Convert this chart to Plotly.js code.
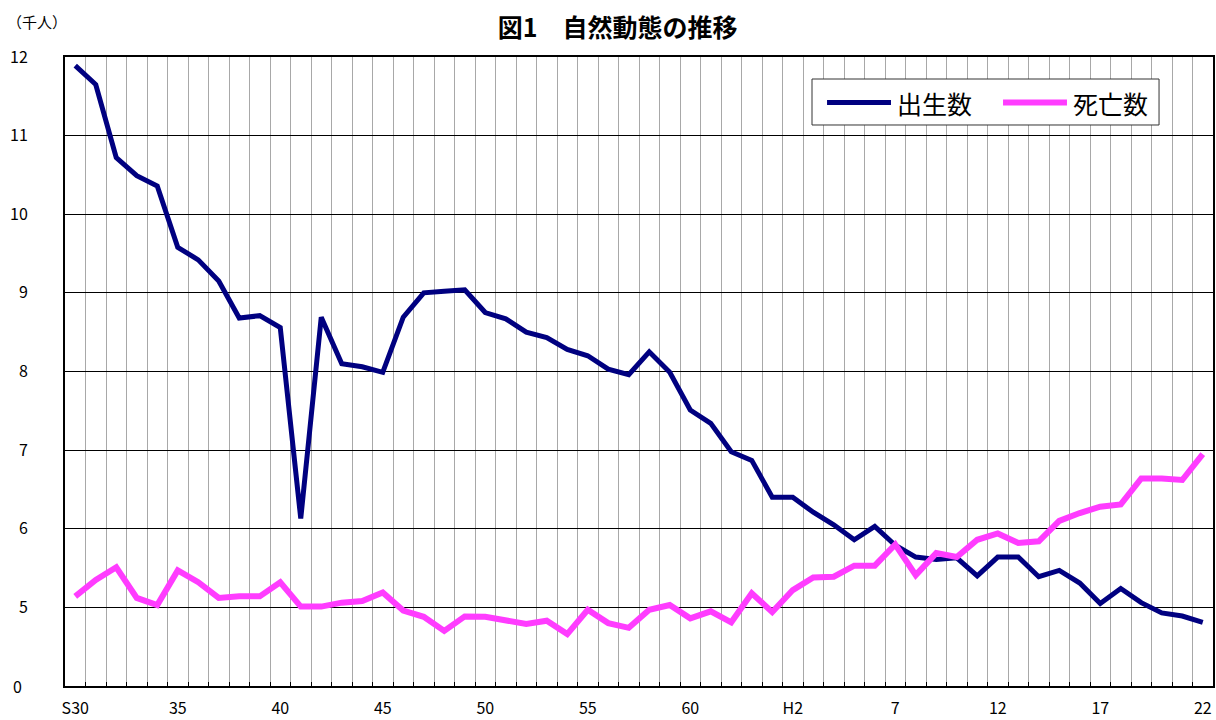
<!DOCTYPE html>
<html>
<head>
<meta charset="utf-8">
<script src="https://cdn.plot.ly/plotly-3.0.1.min.js"></script>
<style>
  html, body { margin: 0; padding: 0; background: #ffffff; }
  #chart { width: 1216px; height: 720px; }
</style>
</head>
<body>
<div id="chart"></div>
<script>
// Years (S30 = 1955 ... H22 = 2010)
const years = [1955,1956,1957,1958,1959,1960,1961,1962,1963,1964,
               1965,1966,1967,1968,1969,1970,1971,1972,1973,1974,
               1975,1976,1977,1978,1979,1980,1981,1982,1983,1984,
               1985,1986,1987,1988,1989,1990,1991,1992,1993,1994,
               1995,1996,1997,1998,1999,2000,2001,2002,2003,2004,
               2005,2006,2007,2008,2009,2010];

// 出生数 (千人)
const births = [11.89,11.65,10.72,10.49,10.36,9.58,9.42,9.15,8.68,8.71,
                8.56,6.13,8.69,8.10,8.06,7.99,8.69,9.00,9.02,9.04,
                8.75,8.67,8.50,8.43,8.28,8.20,8.03,7.96,8.25,7.99,
                7.51,7.34,6.98,6.87,6.40,6.40,6.21,6.05,5.86,6.03,
                5.79,5.64,5.61,5.63,5.40,5.64,5.64,5.39,5.47,5.31,
                5.05,5.24,5.06,4.93,4.89,4.81];

// 死亡数 (千人)
const deaths = [5.14,5.35,5.51,5.12,5.03,5.47,5.32,5.12,5.14,5.14,
                5.32,5.01,5.01,5.06,5.08,5.19,4.96,4.88,4.70,4.885,
                4.88,4.84,4.79,4.83,4.66,4.97,4.80,4.74,4.97,5.03,
                4.86,4.95,4.81,5.18,4.94,5.22,5.38,5.39,5.53,5.53,
                5.80,5.41,5.69,5.64,5.86,5.94,5.82,5.84,6.10,6.20,
                6.28,6.31,6.64,6.64,6.62,6.95];

// x tick labels
const tickYears = [1955,1960,1965,1970,1975,1980,1985,1990,1995,2000,2005,2010];
const tickText  = ["S30","35","40","45","50","55","60","H2","7","12","17","22"];

// y tick labels (axis baseline labelled "0")
const yTickVals = [5,6,7,8,9,10,11,12];
const yTickText = ["5","6","7","8","9","10","11","12"];
const yBase = 4;

const seriesNames = ["出生数","死亡数"];
const colors = ["#000080","#FF3CFF"];

// category boundaries for the vertical grid
const bounds = [];
for (let i = 0; i < years.length - 1; i++) bounds.push((years[i] + years[i+1]) / 2);

const FONT = '"Noto Sans CJK JP", "Noto Sans", sans-serif';

const traces = [
  { x: years, y: births, type: 'scatter', mode: 'lines', name: seriesNames[0],
    line: { color: colors[0], width: 5 }, showlegend: false },
  { x: years, y: deaths, type: 'scatter', mode: 'lines', name: seriesNames[1],
    line: { color: colors[1], width: 6 }, showlegend: false }
];

// custom legend geometry (paper coords)
const L = { x0: 0.6507, x1: 0.9530, y0: 0.8919, y1: 0.9650, ym: 0.9276 };

const layout = {
  width: 1216, height: 720,
  margin: { l: 65, r: 3, t: 57, b: 34 },
  paper_bgcolor: '#ffffff', plot_bgcolor: '#ffffff',
  font: { family: FONT, size: 16, color: '#000000' },
  title: { text: '図1　自然動態の推移', font: { family: FONT, size: 25, color: '#000', weight: 'bold' },
           x: 0.508, xref: 'container', xanchor: 'center', y: 1 - 28/720, yref: 'container', yanchor: 'middle' },
  showlegend: false,
  xaxis: {
    range: [years[0] - 0.5, years[years.length-1] + 0.5],
    tickmode: 'array', tickvals: tickYears, ticktext: tickText,
    ticks: '', showgrid: false, zeroline: false,
    showline: true, linecolor: '#000', linewidth: 2, mirror: true,
    tickfont: { family: FONT, size: 16, color: '#000' },
    ticklabelstandoff: 7,
    minor: { tickmode: 'array', tickvals: bounds, showgrid: true, gridcolor: '#a8a8a8', gridwidth: 1,
             ticks: 'inside', ticklen: 4, tickcolor: '#000', tickwidth: 1 }
  },
  yaxis: {
    range: [yBase, 12],
    tickmode: 'array', tickvals: yTickVals, ticktext: yTickText,
    ticks: '', showgrid: true, gridcolor: '#000', gridwidth: 1, zeroline: false,
    showline: true, linecolor: '#000', linewidth: 2, mirror: true,
    tickfont: { family: FONT, size: 16, color: '#000' },
    ticklabelstandoff: 32
  },
  shapes: [
    { type: 'rect', xref: 'paper', yref: 'paper', x0: L.x0, x1: L.x1, y0: L.y0, y1: L.y1,
      line: { color: '#333', width: 1 }, fillcolor: '#ffffff', layer: 'above' },
    { type: 'line', xref: 'paper', yref: 'paper', x0: 0.6638, x1: 0.7195, y0: L.ym, y1: L.ym,
      line: { color: colors[0], width: 5 }, layer: 'above' },
    { type: 'line', xref: 'paper', yref: 'paper', x0: 0.8171, x1: 0.8728, y0: L.ym, y1: L.ym,
      line: { color: colors[1], width: 6 }, layer: 'above' }
  ],
  annotations: [
    { text: seriesNames[0], xref: 'paper', yref: 'paper', x: 0.7230, y: L.ym, xanchor: 'left', yanchor: 'middle',
      showarrow: false, font: { family: FONT, size: 25, color: '#000' } },
    { text: seriesNames[1], xref: 'paper', yref: 'paper', x: 0.8763, y: L.ym, xanchor: 'left', yanchor: 'middle',
      showarrow: false, font: { family: FONT, size: 25, color: '#000' } },
    { text: '（千人）', xref: 'paper', yref: 'paper', x: (5 - 65) / 1148, y: (686 - 22) / 629,
      xanchor: 'left', yanchor: 'middle', showarrow: false, font: { family: FONT, size: 15, color: '#000' } },
    { text: '0', xref: 'paper', yref: 'y', x: (11 - 65) / 1148, y: yBase,
      xanchor: 'left', yanchor: 'middle', showarrow: false, font: { family: FONT, size: 16, color: '#000' } }
  ]
};

Plotly.newPlot('chart', traces, layout, { displayModeBar: false, staticPlot: true });
</script>
</body>
</html>
